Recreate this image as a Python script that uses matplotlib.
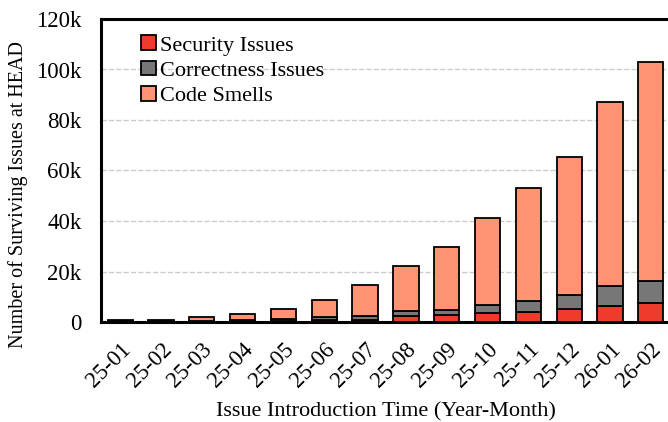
import numpy as np
import matplotlib
matplotlib.use("Agg")
import matplotlib.pyplot as plt
from matplotlib.ticker import FuncFormatter

plt.rcParams["font.family"] = ["Liberation Serif", "DejaVu Serif"]

# ── Data ────────────────────────────────────────────────────────────────────
months = ["25-01", "25-02", "25-03", "25-04", "25-05", "25-06", "25-07",
          "25-08", "25-09", "25-10", "25-11", "25-12", "26-01", "26-02"]
security    = [100, 100, 200, 300, 400, 600, 900, 2400, 2900, 3600, 4100, 5300, 6500, 7700]
correctness = [200, 200, 300, 600, 600, 1200, 1300, 2000, 2000, 3000, 4200, 5400, 7800, 8400]
code_smells = [400, 300, 1500, 2400, 4000, 6800, 12300, 17800, 24900, 34600, 44900, 54600, 72700, 87000]

RED   = "#EE3B2C"
GRAY  = "#777777"
SALM  = "#FF9474"

fig = plt.figure(figsize=(6.68, 4.22), dpi=100)
ax = fig.add_axes([101 / 668, 1 - 322 / 422, 569 / 668, 303 / 422])

x = np.arange(len(months))
sec = np.array(security)
cor = np.array(correctness)
smell = np.array(code_smells)
w = 0.62
kw = dict(width=w, edgecolor="black", linewidth=1.3, zorder=3)

ax.bar(x, sec, color=RED, label="Security Issues", **kw)
ax.bar(x, cor, bottom=sec, color=GRAY, label="Correctness Issues", **kw)
ax.bar(x, smell, bottom=sec + cor, color=SALM, label="Code Smells", **kw)

ax.set_xlim(-0.47, len(months) - 0.53)
ax.set_ylim(0, 120000)
ax.set_yticks(np.arange(0, 120001, 20000))
ax.yaxis.set_major_formatter(FuncFormatter(lambda v, p: "0" if v == 0 else f"{int(v / 1000)}k"))
ax.set_xticks(x)
ax.set_xticklabels(months, rotation=45, ha="right", rotation_mode="anchor")
ax.tick_params(axis="both", length=0, labelsize=16.5)
ax.tick_params(axis="x", pad=12)
ax.tick_params(axis="y", pad=14)

ax.grid(axis="y", color="#cccccc", linestyle="--", linewidth=1.0, zorder=0)
ax.set_axisbelow(True)
for side in ["left", "bottom", "top"]:
    ax.spines[side].set_linewidth(2.2)
ax.spines["right"].set_visible(False)

ax.set_xlabel("Issue Introduction Time (Year-Month)", fontsize=16, labelpad=8)
ax.set_ylabel("Number of Surviving Issues at HEAD", fontsize=14.5)
ax.yaxis.set_label_coords(-0.128, 0.42)

ax.legend(loc="upper left", bbox_to_anchor=(0.055, 0.975), frameon=False, fontsize=16,
          handlelength=0.65, handleheight=0.65, handletextpad=0.2, labelspacing=0.22,
          borderaxespad=0.0)

fig.savefig("out.png", dpi=100)
plt.close(fig)
